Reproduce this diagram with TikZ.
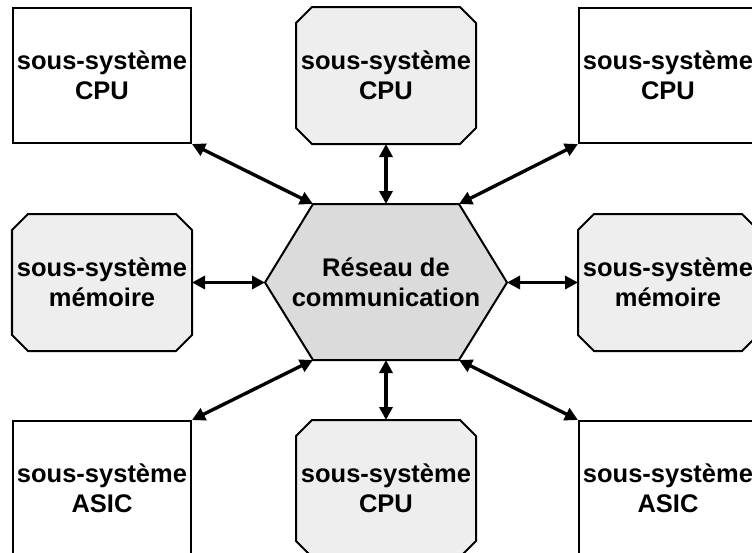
\documentclass[tikz,border=0pt]{standalone}
\usepackage{fontspec}
\setmainfont{Liberation Sans}
\usetikzlibrary{arrows.meta,backgrounds}

\tikzset{
  sous/.style={draw=black,line width=1pt,fill=white,minimum width=89pt,minimum height=67.5pt,
    inner sep=0pt,align=center,font=\fontsize{12.75}{15}\selectfont\bfseries},
  sousgris/.style={sous,draw=none,fill=none},
  octo/.style={line width=1pt,fill=gray!13},
  lien/.style={line width=1.7pt,{Triangle[length=6.5pt,width=6.5pt]}-{Triangle[length=6.5pt,width=6.5pt]}}
}

\begin{document}
\begin{tikzpicture}[x=0.5pt,y=-0.5pt]
\clip (0,0) rectangle (752,553);

% reseau au centre
\coordinate (hw)  at (265,282.5);
\coordinate (hnw) at (313,204);
\coordinate (hne) at (459,204);
\coordinate (he)  at (507,282.5);
\coordinate (hse) at (459,360);
\coordinate (hsw) at (313,360);
\draw[line width=1pt,fill=gray!28] (hw) -- (hnw) -- (hne) -- (he) -- (hse) -- (hsw) -- cycle;
\node[align=center,font=\fontsize{12.75}{15}\selectfont\bfseries] (net) at (386,282.5) {Réseau de\\communication};

% sous-systemes
\node[sous]     (cpu1) at (102,75.5)  {sous-système\\CPU};
\node[sousgris] (cpu2) at (386,75.5)  {sous-système\\CPU};
\node[sous]     (cpu3) at (668,75.5)  {sous-système\\CPU};
\node[sousgris] (mem1) at (102,282.5) {sous-système\\mémoire};
\node[sousgris] (mem2) at (668,282.5) {sous-système\\mémoire};
\node[sous]     (asic1) at (102,488.5) {sous-système\\ASIC};
\node[sousgris] (cpu4) at (386,488.5) {sous-système\\CPU};
\node[sous]     (asic2) at (668,488.5) {sous-système\\ASIC};

% fond blanc et coins coupes des blocs gris
\begin{pgfonlayer}{background}
\fill[white] (0,0) rectangle (752,553);
\foreach \n in {cpu2,mem1,mem2,cpu4}
  \draw[octo] ([xshift=8pt]\n.north west) -- ([xshift=-8pt]\n.north east)
    -- ([yshift=-8pt]\n.north east) -- ([yshift=8pt]\n.south east)
    -- ([xshift=-8pt]\n.south east) -- ([xshift=8pt]\n.south west)
    -- ([yshift=8pt]\n.south west) -- ([yshift=-8pt]\n.north west) -- cycle;
\end{pgfonlayer}

% liens
\draw[lien] (cpu1.south east) -- (hnw);
\draw[lien] (cpu2.south) -- (net.center |- hnw);
\draw[lien] (cpu3.south west) -- (hne);
\draw[lien] (mem1.east) -- (hw);
\draw[lien] (mem2.west) -- (he);
\draw[lien] (asic1.north east) -- (hsw);
\draw[lien] (cpu4.north) -- (net.center |- hsw);
\draw[lien] (asic2.north west) -- (hse);

\end{tikzpicture}
\end{document}
